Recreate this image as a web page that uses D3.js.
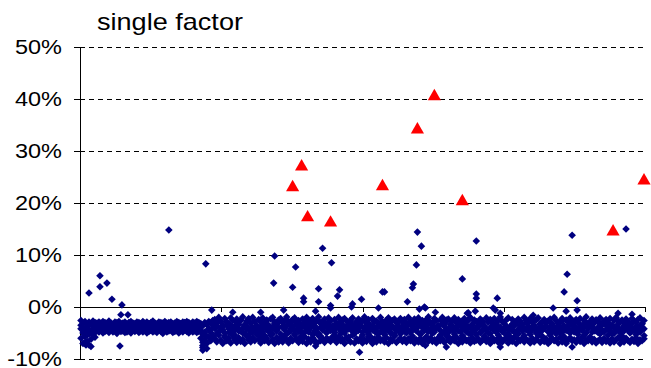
<!DOCTYPE html>
<html>
<head>
<meta charset="utf-8">
<script src="https://cdn.jsdelivr.net/npm/d3@7"></script>
<style>
  body { margin: 0; background: #fff; }
  text { font-family: "Liberation Sans", Arial, sans-serif; fill: #000; }
</style>
</head>
<body>
<div id="chart"></div>
<script>
const title = "single factor";
const yTicks = [-10, 0, 10, 20, 30, 40, 50];

const bandUpper = [
  -2.6,-3.1,-2.8,-3.4,-2.9,-3.2,-2.7,-3.0,
  -3.1,-2.9,-3.3,-2.8,-3.0,-3.2,-2.7,-3.1,-3.4,-2.9,
  -3.0,-2.8,-3.2,-3.1,-2.9,-3.3,-3.0,-2.8,-3.1,-3.2,
  -2.9,-3.0,-3.3,-2.8,-3.1,-2.9,-3.2,-3.0,-2.7,-3.1,
  -3.3,-2.9,-3.0,-3.2,-2.8,-3.1,-3.0,-2.9,-3.3,-3.1,
  -2.8,-3.0,-3.2,-2.9,-3.1,-2.8,-3.0,-3.3,-2.9,-3.1,
  -2.8,-3.0,
  -3.2,-3.6,-3.0,-3.4,-2.8,-3.1,-2.6,
  -2.4,-3.1,-2.0,-2.8,-3.5,-2.2,-2.9,-3.3,-2.1,-2.6,-3.7,-2.3,
  -3.0,-2.5,-1.9,-3.4,-2.7,-2.2,-3.1,-2.0,-2.8,-3.6,-2.4,-2.9,
  -2.1,-3.2,-2.6,-3.8,-2.3,-2.0,-2.9,-3.3,-2.5,-2.2,-3.0,-2.7,
  -1.9,-2.8,-3.4,-2.4,-2.1,-3.1,-2.6,-3.5,-2.3,-2.9,-2.0,-3.2,
  -2.7,-2.2,-3.6,-2.5,-1.9,-3.0,-2.8,-2.3,-3.3,-2.1,-2.6,-3.7,
  -2.4,-3.1,-2.0,-2.9,-3.4,-2.2,-2.7,-3.0,-2.5,-2.1,-3.5,-2.8,
  -2.3,-3.2,-2.6,-1.9,-3.0,-2.4,-3.6,-2.2,-2.9,-2.7,-3.1,-2.0,
  -2.8,-3.3,-2.5,-2.1,-3.4,-2.6,-2.3,-3.0,-2.9,-2.2,-3.7,-2.4,
  -3.1,-2.0,-2.7,-3.5,-2.3,-2.8,-2.1,-3.2,-2.6,-3.0,-2.4,-1.9,
  -2.9,-3.3,-2.2,-2.6,-3.6,-2.5,-2.0,-3.1,-2.8,-2.3,-3.4,-2.7,
  -2.1,-3.0,-2.4,-3.2,-2.9,-2.2,-3.5,-2.6,-2.0,-3.3,-2.5,-2.8,
  -3.1,-2.3,-2.7,-3.6,-2.1,-2.9,-2.4,-3.0,-2.2,-3.4,-2.6,-1.9,
  -2.8,-3.2,-2.5,-2.1,-3.7,-2.4,-2.9,-3.0,-2.3,-2.7,-3.3,-2.0,
  -2.6,-3.1,-2.2,-2.8,-3.5,-2.5,-2.1,-3.2,-2.9,-2.4,-3.0,-2.7,
  -2.3,-3.4,-2.0,-2.6,-3.1,-2.8,-2.2,-3.6,-2.5,-2.9,-2.1,-3.3,
  -2.7,-2.4,-3.0,-2.2,-3.5,-2.6,-1.9,-3.2,-2.8,-2.3,-3.1,-2.5,
  -2.9,-2.1,-3.4,-2.7,-2.4,-3.0,-2.2,-3.6,-2.6,-2.0,-3.3,-2.8,
  -2.5,-3.1,-2.3,-2.9,-3.5,-2.2,-2.7,-3.0,-2.4,-2.1,-3.2,-2.6
];
const bandCore = [
  -3.5,-4.0,-6.8,-3.8,-5.2,-7.6,-3.6,-4.9,
  -3.4,-4.3,-3.1,-4.0,-3.6,-4.5,-3.2,-3.9,-4.4,-3.3,
  -4.1,-3.0,-3.7,-4.6,-3.5,-4.2,-3.1,-3.8,-4.4,-3.4,
  -3.9,-4.3,-3.2,-4.0,-3.6,-4.5,-3.3,-4.1,-3.0,-3.8,
  -4.4,-3.5,-4.2,-3.1,-3.9,-4.6,-3.4,-4.0,-3.2,-4.3,
  -3.7,-4.5,-3.3,-4.1,-3.0,-3.9,-4.4,-3.6,-4.2,-3.2,
  -4.0,-3.5,
  -3.8,-7.8,-5.5,-8.0,-4.2,-6.0,-3.3,
  -3.3,-5.1,-2.7,-4.4,-3.8,-5.6,-2.9,-4.9,-3.5,-4.1,-5.4,-3.0,
  -4.6,-2.6,-5.0,-3.6,-4.2,-5.7,-3.1,-4.8,-2.8,-3.9,-5.3,-4.3,
  -3.4,-5.5,-2.5,-4.7,-3.9,-5.2,-3.2,-4.5,-2.9,-5.8,-3.7,-4.0,
  -5.1,-3.0,-4.6,-2.7,-5.4,-3.5,-4.1,-5.7,-3.3,-4.9,-2.6,-4.4,
  -3.8,-5.3,-3.1,-4.8,-2.8,-5.6,-4.2,-3.4,-5.0,-2.9,-4.5,-3.6,
  -5.5,-3.2,-4.0,-5.2,-2.5,-4.7,-3.7,-5.8,-3.0,-4.3,-5.1,-3.5,
  -4.1,-2.7,-5.4,-3.9,-4.6,-3.1,-5.7,-4.4,-2.8,-5.0,-3.6,-4.8,
  -3.3,-5.3,-4.0,-2.6,-4.9,-3.8,-5.5,-3.0,-4.3,-5.2,-2.9,-4.6,
  -5.0,-3.4,-4.7,-5.6,-3.1,-4.2,-2.7,-5.3,-3.9,-4.5,-5.8,-3.2,
  -4.4,-5.1,-2.8,-4.0,-3.6,-5.4,-3.3,-4.8,-2.5,-5.7,-4.1,-3.7,
  -5.2,-3.0,-4.6,-3.5,-5.5,-2.9,-4.3,-5.0,-3.8,-4.7,-2.6,-5.3,
  -3.6,-4.9,-3.1,-5.6,-4.2,-2.8,-5.1,-3.9,-4.5,-3.2,-5.4,-4.0,
  -2.7,-5.0,-3.7,-4.4,-5.7,-3.3,-4.8,-2.9,-5.2,-3.5,-4.1,-5.5,
  -3.0,-4.6,-5.3,-3.8,-2.6,-5.0,-4.3,-3.4,-5.6,-4.0,-2.9,-4.7,
  -5.4,-3.2,-4.5,-5.1,-3.6,-4.9,-2.7,-5.7,-3.9,-4.2,-5.0,-3.1,
  -4.8,-2.8,-5.3,-3.7,-4.4,-5.5,-3.0,-4.1,-5.8,-3.4,-4.6,-2.5,
  -3.9,-5.2,-3.3,-4.7,-2.9,-5.4,-4.0,-3.5,-5.1,-4.3,-2.7,-4.9,
  -5.6,-3.6,-4.2,-2.8,-5.0,-3.1,-4.5,-5.3,-3.8,-4.8,-3.2,-5.5
];
const bandMiddle = [
  -4.2,-5.0,-4.6,-5.4,-4.4,-4.8,-4.1,-4.5,
  -3.7,-3.9,-3.5,-4.1,-3.8,-3.6,-4.0,-3.4,-3.9,-3.7,
  -4.2,-3.6,-3.8,-3.5,-4.0,-3.9,-3.7,-4.1,-3.6,-3.8,
  -3.5,-4.0,-3.7,-3.9,-3.4,-4.2,-3.8,-3.6,-3.9,-3.7,
  -4.0,-3.5,-3.8,-4.1,-3.6,-3.9,-3.7,-3.5,-4.0,-3.8,
  -3.6,-4.2,-3.7,-3.9,-3.5,-3.8,-4.1,-3.6,-3.9,-3.7,
  -4.0,-3.8,
  -4.5,-5.2,-4.8,-5.6,-4.3,-4.9,-4.0,
  -4.1,-3.6,-4.7,-3.9,-4.4,-5.0,-3.5,-4.2,-4.8,-3.8,-4.5,-4.0,
  -3.4,-4.6,-4.1,-5.1,-3.7,-4.3,-4.9,-3.9,-4.4,-3.6,-4.7,-4.2,
  -4.8,-3.8,-4.3,-3.5,-5.0,-4.1,-3.7,-4.6,-4.0,-5.2,-3.9,-4.4,
  -3.6,-4.9,-4.2,-3.8,-4.5,-3.3,-4.7,-4.1,-5.0,-3.7,-4.3,-4.8,
  -4.0,-3.5,-4.6,-4.2,-5.1,-3.9,-4.4,-3.6,-4.8,-4.1,-3.8,-4.5,
  -4.9,-4.0,-3.7,-4.6,-4.3,-5.0,-3.8,-4.2,-3.5,-4.7,-4.4,-3.9,
  -4.5,-3.6,-4.8,-4.1,-3.9,-5.2,-4.3,-3.7,-4.6,-4.0,-4.9,-3.8,
  -4.2,-4.7,-3.5,-4.4,-5.0,-3.9,-4.1,-4.6,-3.6,-4.8,-4.3,-4.0,
  -3.7,-4.5,-4.9,-3.8,-4.2,-4.6,-3.4,-5.1,-4.0,-4.4,-3.9,-4.7,
  -4.3,-3.6,-4.8,-4.1,-3.8,-4.5,-5.0,-3.7,-4.2,-4.9,-3.9,-4.4,
  -4.6,-4.0,-3.5,-4.7,-4.3,-3.9,-4.8,-4.1,-5.2,-3.6,-4.5,-4.2,
  -3.8,-4.9,-4.4,-3.7,-4.6,-5.0,-4.0,-3.6,-4.3,-4.8,-4.1,-3.9,
  -4.7,-4.2,-3.8,-5.1,-4.0,-4.5,-3.6,-4.9,-4.3,-3.9,-4.6,-4.1,
  -4.4,-3.7,-4.8,-4.2,-3.9,-4.6,-5.0,-3.8,-4.5,-4.1,-3.6,-4.7,
  -4.0,-4.6,-3.9,-5.1,-4.3,-3.7,-4.8,-4.2,-4.5,-3.8,-4.9,-4.4,
  -3.6,-4.3,-4.7,-4.0,-4.5,-3.9,-5.0,-4.1,-3.7,-4.8,-4.2,-4.6,
  -4.9,-3.8,-4.4,-4.7,-3.6,-4.2,-4.5,-5.1,-3.9,-4.3,-4.0,-4.8,
  -4.1,-4.6,-3.7,-4.4,-4.9,-4.0,-4.3,-3.8,-4.7,-4.5,-3.9,-4.2
];
const bandLower = [
  -6.0,-7.0,-5.6,-6.6,-7.3,-6.2,-5.4,-5.8,
  -4.6,-4.8,-4.4,-5.0,-4.7,-4.5,-4.9,-4.3,-4.8,-4.6,
  -5.1,-4.5,-4.7,-4.4,-4.9,-4.8,-4.6,-5.0,-4.5,-4.7,
  -4.4,-4.9,-4.6,-4.8,-4.3,-5.0,-4.7,-4.5,-4.8,-4.6,
  -4.9,-4.4,-4.7,-5.1,-4.5,-4.8,-4.6,-4.4,-4.9,-4.7,
  -4.5,-5.0,-4.6,-4.8,-4.4,-4.7,-5.0,-4.5,-4.8,-4.6,
  -4.9,-4.7,
  -6.0,-6.8,-6.4,-7.0,-5.8,-6.5,-5.6,
  -6.1,-6.7,-5.4,-6.4,-7.0,-5.8,-6.5,-6.0,-6.9,-5.5,-6.3,-6.8,
  -5.9,-6.6,-6.2,-7.0,-5.6,-6.4,-6.7,-5.9,-6.5,-5.3,-6.2,-6.9,
  -5.8,-6.5,-6.0,-6.8,-5.4,-6.3,-7.0,-5.9,-6.6,-6.1,-6.7,-5.6,
  -6.3,-6.9,-6.0,-6.5,-5.2,-6.2,-6.8,-6.1,-6.6,-5.7,-7.0,-6.2,
  -6.7,-5.9,-6.4,-7.0,-5.5,-6.5,-6.1,-6.8,-6.0,-6.3,-6.6,-5.7,
  -6.2,-6.8,-5.8,-6.5,-6.2,-7.0,-5.9,-6.4,-6.7,-5.4,-6.9,-6.1,
  -6.5,-6.0,-6.9,-6.3,-6.6,-5.7,-6.4,-7.0,-6.1,-6.7,-5.8,-6.5,
  -6.3,-6.7,-5.9,-7.0,-6.2,-6.5,-5.6,-6.8,-6.4,-6.0,-6.6,-6.1,
  -6.8,-6.1,-6.5,-5.8,-6.9,-6.3,-6.7,-6.0,-7.0,-6.4,-5.7,-6.6,
  -6.0,-6.6,-6.3,-6.9,-5.9,-6.5,-6.2,-6.8,-5.6,-6.4,-6.7,-6.1,
  -6.5,-5.8,-7.0,-6.2,-6.7,-6.0,-6.5,-6.3,-6.9,-5.9,-6.6,-6.4,
  -6.1,-6.8,-6.4,-5.7,-6.6,-6.2,-7.0,-5.9,-6.5,-6.3,-6.8,-6.0,
  -6.7,-6.3,-5.9,-6.9,-6.4,-6.6,-5.8,-7.0,-6.2,-6.5,-6.0,-6.7,
  -6.2,-6.5,-6.9,-6.0,-6.7,-6.3,-5.6,-6.8,-6.4,-6.6,-6.1,-7.0,
  -6.6,-6.0,-6.5,-6.3,-6.9,-5.8,-6.7,-6.2,-7.0,-6.4,-5.9,-6.5,
  -6.3,-6.8,-6.1,-6.6,-5.9,-7.0,-6.4,-6.5,-5.8,-6.7,-6.2,-6.9,
  -6.5,-6.2,-6.8,-6.0,-6.6,-6.4,-6.9,-6.1,-6.7,-6.3,-5.9,-7.0,
  -6.4,-6.7,-6.0,-6.5,-6.8,-6.2,-6.6,-5.9,-7.0,-6.3,-6.5,-6.1
];

// isolated diamonds outside the band (observation index, value in %)
const outlierIdx = [44, 62.5, 97, 107.5, 121, 125.5, 96.5, 106, 119, 129.5, 128.5, 111.5, 111.5, 119, 125, 136, 140.5, 151, 152,
  168.5, 170.5, 198, 168, 166.5, 166, 191, 198, 198, 208.5, 163.5, 246, 243.5, 242, 248.5, 273,
  4, 9.5, 9.5, 13, 15.5, 20.5, 20, 23.5, 19.5, 2.5, 61, 61, 65.5, 76, 90, 101.5, 117.5, 117.5, 139.5,
  172.5, 177.5, 194, 197.5, 206.5, 210, 236.5, 243, 248.5, 226.5, 269, 276,
  246, 210, 172.5, 183, 125, 135.5, 149, 169.5, 172, 193.5, 207.5, 99];
const outlierVal = [14.8, 8.3, 9.8, 7.7, 11.3, 8.5, 4.6, 3.8, 3.5, 3.3, 2.1, 1.7, 1.0, 1.0, 0.3, 0.6, 1.5, 2.9, 2.9,
  14.4, 11.7, 12.7, 8.1, 4.4, 3.7, 5.4, 2.5, 1.7, 1.7, 1.0, 13.8, 6.3, 2.9, 1.2, 15.0,
  2.7, 6.0, 3.9, 4.6, 1.5, 0.4, -1.5, -1.5, -7.5, -7.3, -8.3, -7.4, -0.6, -1.0, -1.0, -0.6, -0.8, -7.5, -8.7,
  -0.2, -1.0, -1.1, -0.8, -0.2, -1.2, -0.2, -0.8, -0.6, -1.6, -1.2, -1.4,
  -7.7, -7.7, -7.4, -7.7, -0.2, 0.0, -0.2, -0.4, 0.0, -1.2, -0.6, -6.7];

// highlighted observations (red triangles)
const triangleIdx = [106, 110.5, 113.5, 125, 151, 168.5, 177, 191, 266.5, 282];
const triangleVal = [23.0, 27.0, 17.2, 16.2, 23.2, 34.1, 40.5, 20.3, 14.5, 24.3];

const width = 651, height = 368;

const svg = d3.select("#chart").append("svg")
  .attr("width", width)
  .attr("height", height);

const nSlots = bandUpper.length;
const x = d3.scaleLinear().domain([-0.5, nSlots - 0.5]).range([80, 645]);
const y = d3.scaleLinear().domain([-10, 50]).range([359, 47]);

// gridlines
svg.append("g")
  .selectAll("line")
  .data(yTicks.filter(d => d !== 0))
  .join("line")
  .attr("x1", x.range()[0])
  .attr("x2", x.range()[1])
  .attr("y1", d => y(d))
  .attr("y2", d => y(d))
  .attr("stroke", "#000")
  .attr("stroke-width", 1)
  .attr("stroke-dasharray", "5,4")
  .attr("shape-rendering", "crispEdges");

// y axis
const yAxis = svg.append("g")
  .attr("transform", "translate(80,0)")
  .call(d3.axisLeft(y).tickValues(yTicks).tickSize(6).tickSizeOuter(0).tickFormat(d => d + "%"));
yAxis.select(".domain").attr("stroke", "#000").attr("shape-rendering", "crispEdges");
yAxis.selectAll(".tick line").attr("stroke", "#000").attr("shape-rendering", "crispEdges");
const yLabels = yAxis.selectAll(".tick text")
  .attr("x", 0)
  .attr("dy", "0.34em")
  .attr("font-family", '"Liberation Sans", Arial, sans-serif')
  .attr("font-size", 20.5);
// the reference is a little wider than the font: "50%" spans about 47px
const refLabel = yLabels.filter(d => d === 50).node();
const labelStretch = 47 / refLabel.getComputedTextLength();
yLabels.attr("transform", "translate(-18,0) scale(" + labelStretch + ",1)");

// x axis along 0%
const xAxis = svg.append("g")
  .attr("transform", "translate(0," + y(0) + ")")
  .call(d3.axisBottom(x)
    .tickValues([0, 1, 2, 3, 4].map(k => -0.5 + k * nSlots / 4))
    .tickSize(5).tickSizeOuter(0).tickFormat(""));
xAxis.select(".domain").attr("stroke", "#000").attr("shape-rendering", "crispEdges");
xAxis.selectAll(".tick line").attr("stroke", "#000").attr("shape-rendering", "crispEdges");

// diamonds
const diamond = d3.symbol().type(d3.symbolSquare).size(29)();
const points = [];
[bandUpper, bandCore, bandMiddle, bandLower].forEach(layer => {
  layer.forEach((v, i) => points.push({ i: i, v: v }));
});
outlierIdx.forEach((i, k) => points.push({ i: i, v: outlierVal[k] }));

svg.append("g")
  .selectAll("path")
  .data(points)
  .join("path")
  .attr("d", diamond)
  .attr("transform", d => "translate(" + x(d.i) + "," + y(d.v) + ") rotate(45)")
  .attr("fill", "#000080");

// triangles
const triangle = d3.symbol().type(d3.symbolTriangle).size(75)();
svg.append("g")
  .selectAll("path")
  .data(triangleIdx.map((i, k) => ({ i: i, v: triangleVal[k] })))
  .join("path")
  .attr("d", triangle)
  .attr("transform", d => "translate(" + x(d.i) + "," + y(d.v) + ")")
  .attr("fill", "#ff0000");

// title
const titleText = svg.append("text")
  .attr("font-size", 24)
  .text(title);
const titleStretch = 146 / titleText.node().getComputedTextLength();
titleText.attr("transform", "translate(97,30) scale(" + titleStretch + ",1)");
</script>
</body>
</html>
